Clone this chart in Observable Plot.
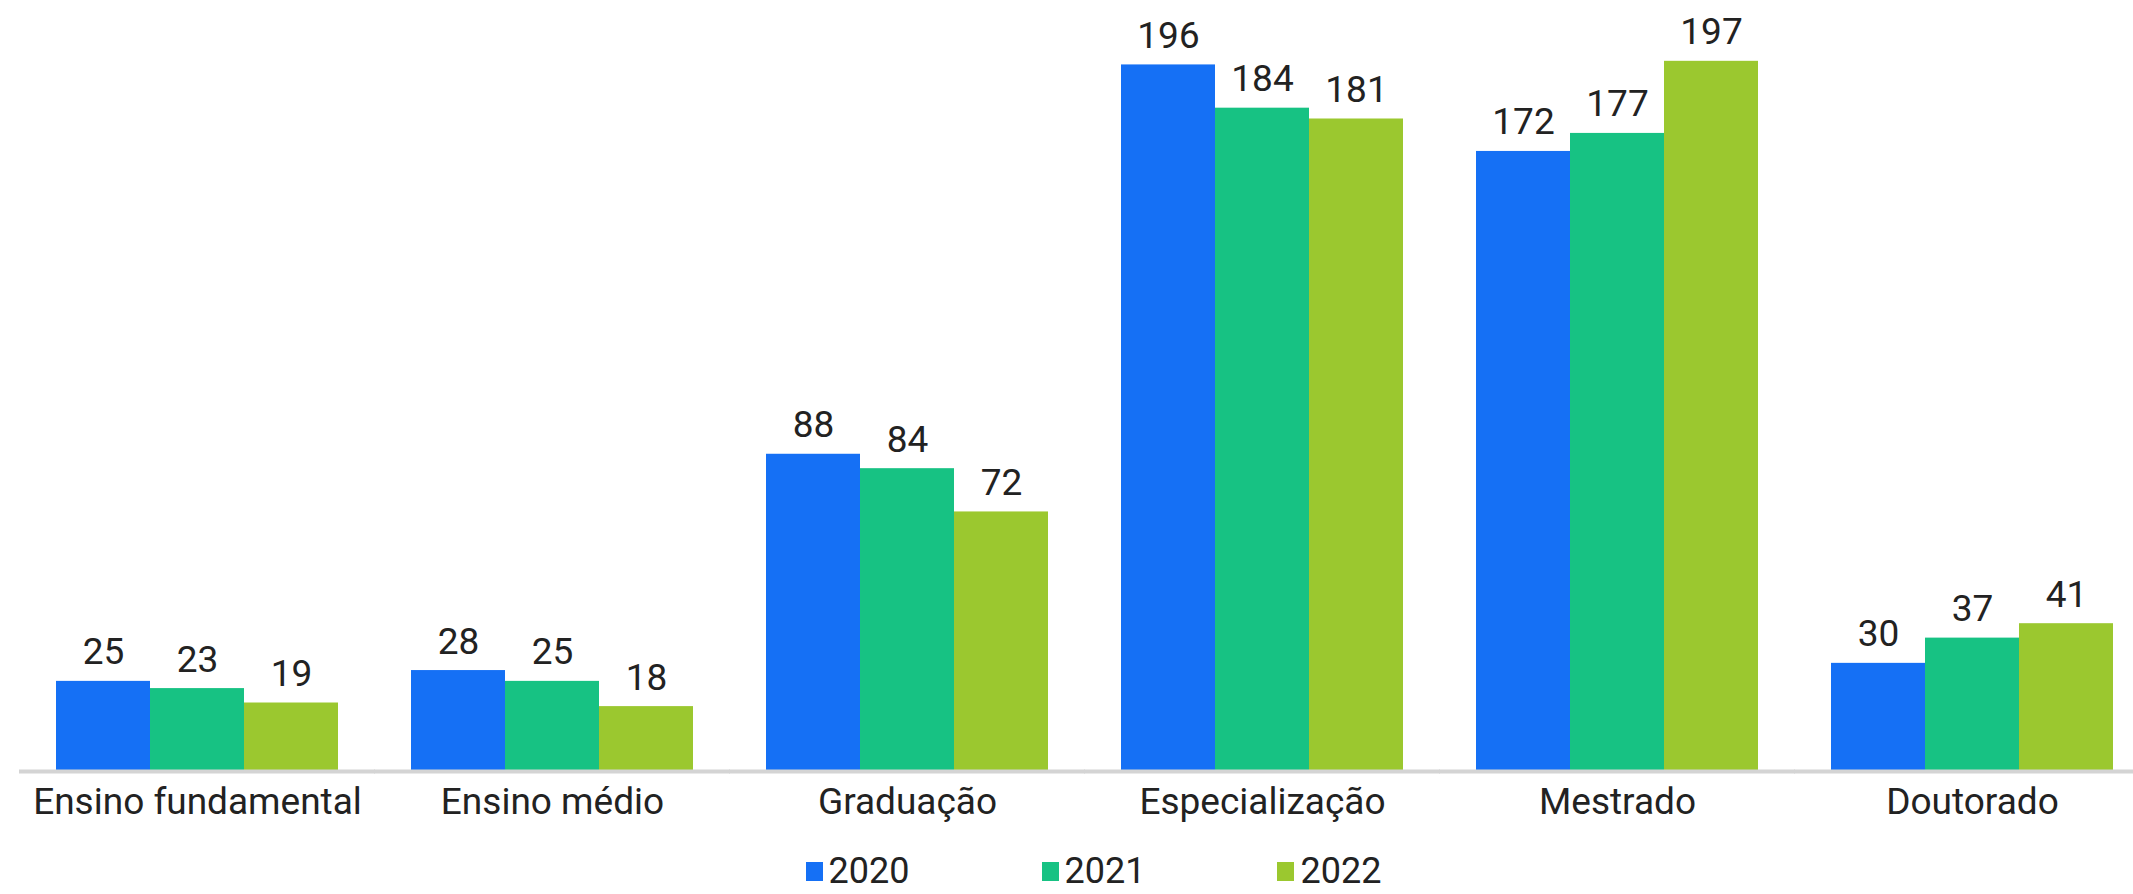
<!DOCTYPE html>
<html><head><meta charset="utf-8">
<script src="https://cdn.jsdelivr.net/npm/d3@7"></script>
<script src="https://cdn.jsdelivr.net/npm/@observablehq/plot@0.6"></script>
<style>
body{margin:0;background:#fff;font-family:Roboto,sans-serif;}
#legend{display:flex;justify-content:center;align-items:center;gap:132px;height:54px;padding-left:54px;font-size:36px;line-height:40px;color:#222;}
.item{display:flex;align-items:center;gap:6px}
.sw{width:17px;height:19px;}
</style></head><body><div id="chart"></div><div id="legend"></div>
<script>
const categories = ["Ensino fundamental","Ensino médio","Graduação","Especialização","Mestrado","Doutorado"];
const years = ["2020","2021","2022"];
const v2020 = [25,28,88,196,172,30];
const v2021 = [23,25,84,184,177,37];
const v2022 = [19,18,72,181,197,41];
const colors = ["#1570f5","#17c283","#9bc82f"];
const series = [v2020, v2021, v2022];
const data = categories.flatMap((c,i)=>years.map((y,j)=>({cat:c, year:y, value:series[j][i]})));
const plot = Plot.plot({
  width:2133, height:844, marginTop:50, marginBottom:73, marginLeft:15, marginRight:0,
  style:{fontFamily:"Roboto", fontSize:"37px", color:"#222", background:"white"},
  fx:{domain:categories, range:[37,2132], paddingInner:0.2, paddingOuter:0.05, label:null, axis:"bottom", tickSize:0, tickPadding:16},
  x:{domain:years, axis:null, padding:0},
  y:{domain:[0,200], axis:null},
  color:{domain:years, range:colors},
  marks:[
    Plot.barY(data,{fx:"cat", x:"year", y:"value", fill:"year"}),
    Plot.ruleY([0],{stroke:"#d4d4d4", strokeWidth:4, insetLeft:-36, insetRight:-36}),
    Plot.text(data,{fx:"cat", x:"year", y:"value", text:"value", lineAnchor:"bottom", dy:-17, fill:"#222"})
  ]
});
document.getElementById("chart").appendChild(plot);
const legend = d3.select("#legend");
years.forEach((y,i)=>{
  const it = legend.append("div").attr("class","item");
  it.append("div").attr("class","sw").style("background", colors[i]);
  it.append("span").text(y);
});
</script></body></html>
